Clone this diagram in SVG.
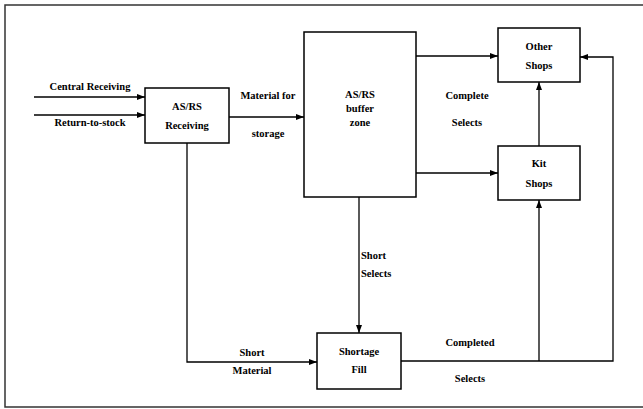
<svg xmlns="http://www.w3.org/2000/svg" width="643" height="409" viewBox="0 0 643 409">
<defs>
<marker id="ah" markerWidth="8" markerHeight="6" refX="8" refY="3" orient="auto" markerUnits="userSpaceOnUse">
<path d="M0,0 L8,3 L0,6 Z" fill="#000"/>
</marker>
<style>
.box{fill:#fff;stroke:#000;stroke-width:1.5}
.ln{fill:none;stroke:#000;stroke-width:1.3}
text{font-family:"Liberation Serif","Times New Roman",serif;font-size:10.5px;font-weight:bold;fill:#000}
.c{text-anchor:middle}
</style>
</defs>
<rect width="643" height="409" fill="#fff"/>
<path d="M645,5 L5,5 L5,407 L645,407" fill="none" stroke="#333" stroke-width="1.5"/>
<g id="connectors">
<line class="ln" x1="34" y1="97" x2="145" y2="97" marker-end="url(#ah)"/>
<line class="ln" x1="34" y1="115" x2="145" y2="115" marker-end="url(#ah)"/>
<line class="ln" x1="229" y1="117" x2="304" y2="117" marker-end="url(#ah)"/>
<line class="ln" x1="416" y1="56" x2="498" y2="56" marker-end="url(#ah)"/>
<line class="ln" x1="416" y1="173" x2="498" y2="173" marker-end="url(#ah)"/>
<line class="ln" x1="539" y1="146" x2="539" y2="82" marker-end="url(#ah)"/>
<polyline class="ln" points="187,143 187,362 317,362" marker-end="url(#ah)"/>
<line class="ln" x1="359" y1="197" x2="359" y2="333" marker-end="url(#ah)"/>
<polyline class="ln" points="401,361 613,361 613,57 580,57" marker-end="url(#ah)"/>
<line class="ln" x1="539" y1="361" x2="539" y2="200" marker-end="url(#ah)"/>
<text x="90" y="90" class="c">Central Receiving</text>
<text x="90" y="126" class="c">Return-to-stock</text>
<text x="268" y="99" class="c">Material for</text>
<text x="268" y="137" class="c">storage</text>
<text x="467" y="99" class="c">Complete</text>
<text x="467" y="126" class="c">Selects</text>
<text x="361" y="259">Short</text>
<text x="361" y="277">Selects</text>
<text x="252" y="356" class="c">Short</text>
<text x="252" y="374" class="c">Material</text>
<text x="470" y="346" class="c">Completed</text>
<text x="470" y="382" class="c">Selects</text>
</g>
<g id="asrs-receiving">
<rect class="box" x="145" y="88" width="84" height="55"/>
<text x="187" y="110" class="c">AS/RS</text>
<text x="187" y="129" class="c">Receiving</text>
</g>
<g id="asrs-buffer">
<rect class="box" x="304" y="32" width="112" height="165"/>
<text x="360" y="98" class="c">AS/RS</text>
<text x="360" y="112" class="c">buffer</text>
<text x="360" y="126" class="c">zone</text>
</g>
<g id="other-shops">
<rect class="box" x="498" y="28" width="82" height="54"/>
<text x="539" y="50" class="c">Other</text>
<text x="539" y="69" class="c">Shops</text>
</g>
<g id="kit-shops">
<rect class="box" x="498" y="146" width="82" height="54"/>
<text x="539" y="167" class="c">Kit</text>
<text x="539" y="187" class="c">Shops</text>
</g>
<g id="shortage-fill">
<rect class="box" x="317" y="333" width="84" height="56"/>
<text x="359" y="355" class="c">Shortage</text>
<text x="359" y="373" class="c">Fill</text>
</g>
</svg>
